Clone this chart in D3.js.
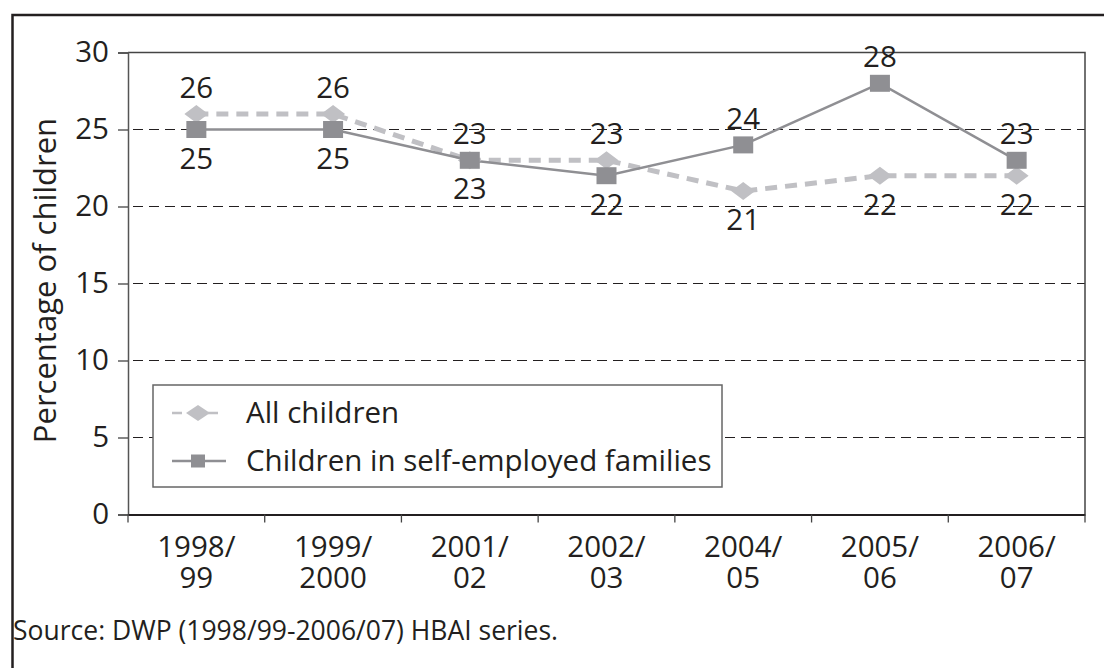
<!DOCTYPE html>
<html>
<head>
<meta charset="utf-8">
<script src="https://cdn.jsdelivr.net/npm/d3@7"></script>
<style>
  html, body { margin: 0; padding: 0; background: #fff; }
  svg { display: block; font-family: "Open Sans", "Noto Sans", sans-serif; }
</style>
</head>
<body>
<svg id="chart" width="1104" height="668"></svg>
<script>
// Survey years and child poverty rates (%)
const categories = ["1998/99", "1999/2000", "2001/02", "2002/03", "2004/05", "2005/06", "2006/07"];
const allChildren = [26, 26, 23, 23, 21, 22, 22];
const selfEmployed = [25, 25, 23, 22, 24, 28, 23];
const yTicks = [0, 5, 10, 15, 20, 25, 30];
const seriesNames = ["All children", "Children in self-employed families"];
const sourceNote = "Source: DWP (1998/99-2006/07) HBAI series.";

const svg = d3.select("#chart");
const ink = "#231f20";
const lightGrey = "#c0c0c4";
const darkGrey = "#8f8f93";
const fs = 29.5;

const margin = { left: 128, right: 1085, top: 52.5, bottom: 514.5 };

const x = d3.scaleBand().domain(categories).range([margin.left, margin.right]);
const y = d3.scaleLinear().domain([0, 30]).range([margin.bottom, margin.top]);

// outer frame (left and top edges)
svg.append("path")
  .attr("d", `M12.5,668 L12.5,15 L1104,15`)
  .attr("fill", "none").attr("stroke", ink).attr("stroke-width", 2.5);

// dashed gridlines
svg.append("g").selectAll("line")
  .data(yTicks.filter(t => t > 0 && t < 30))
  .join("line")
  .attr("x1", margin.left + 5).attr("x2", margin.right)
  .attr("y1", d => y(d)).attr("y2", d => y(d))
  .attr("stroke", ink).attr("stroke-width", 1.2)
  .attr("stroke-dasharray", "10,6");

// plot frame top/right
svg.append("path")
  .attr("d", `M${margin.left},${y(30)} L${margin.right},${y(30)} L${margin.right},${margin.bottom}`)
  .attr("fill", "none").attr("stroke", "#444").attr("stroke-width", 1.5);

// y axis
const yAxis = svg.append("g")
  .attr("transform", `translate(${margin.left},0)`)
  .call(d3.axisLeft(y).tickValues(yTicks).tickSize(10).tickPadding(9));
yAxis.select(".domain").attr("stroke", "#555").attr("stroke-width", 1.5);
yAxis.selectAll(".tick line").attr("stroke", "#444").attr("stroke-width", 1.3);
yAxis.selectAll(".tick text")
  .attr("fill", ink).attr("font-size", fs).attr("font-family", "Open Sans");

// x axis
const xAxis = svg.append("g")
  .attr("transform", `translate(0,${margin.bottom})`)
  .call(d3.axisBottom(x).tickSize(0).tickFormat(""));
xAxis.select(".domain").attr("stroke", ink).attr("stroke-width", 2);
// boundary ticks between categories
const bounds = categories.map(c => x(c)).concat([margin.right]);
svg.append("g").selectAll("line").data(bounds).join("line")
  .attr("x1", d => d).attr("x2", d => d)
  .attr("y1", margin.bottom).attr("y2", margin.bottom + 8)
  .attr("stroke", "#444").attr("stroke-width", 1.3);

// two-line category labels
const xl = svg.append("g").selectAll("text").data(categories).join("text")
  .attr("x", d => x(d) + x.bandwidth() / 2)
  .attr("y", 557)
  .attr("text-anchor", "middle")
  .attr("font-size", fs).attr("fill", ink);
xl.each(function(d) {
  const parts = d.split("/");
  const t = d3.select(this);
  t.append("tspan").attr("x", x(d) + x.bandwidth() / 2).text(parts[0] + "/");
  t.append("tspan").attr("x", x(d) + x.bandwidth() / 2).attr("dy", 31).text(parts[1]);
});

// y-axis title
svg.append("text")
  .attr("transform", `translate(56,${(margin.top + margin.bottom) / 2 - 3}) rotate(-90)`)
  .attr("text-anchor", "middle")
  .attr("font-size", 31).attr("fill", ink)
  .text("Percentage of children");

const cx = i => x(categories[i]) + x.bandwidth() / 2;

// All children: dashed light line with diamonds
const lineAll = d3.line().x((d, i) => cx(i)).y(d => y(d));
svg.append("path").datum(allChildren)
  .attr("d", lineAll)
  .attr("fill", "none").attr("stroke", lightGrey).attr("stroke-width", 5)
  .attr("stroke-dasharray", "12,8");

// Self-employed: solid darker line with squares
svg.append("path").datum(selfEmployed)
  .attr("d", lineAll)
  .attr("fill", "none").attr("stroke", darkGrey).attr("stroke-width", 2.5);

const diamond = (w, h) => `M0,${-h} L${w},0 L0,${h} L${-w},0 Z`;
svg.append("g").selectAll("path").data(allChildren).join("path")
  .attr("transform", (d, i) => `translate(${cx(i)},${y(d)})`)
  .attr("d", diamond(12, 9))
  .attr("fill", lightGrey);

svg.append("g").selectAll("rect").data(selfEmployed).join("rect")
  .attr("x", (d, i) => cx(i) - 10).attr("y", d => y(d) - 8.5)
  .attr("width", 20).attr("height", 17)
  .attr("fill", darkGrey);

// value labels: higher series above, lower below (ties: self-employed above)
const labelG = svg.append("g").attr("font-size", fs).attr("fill", ink).attr("text-anchor", "middle");
categories.forEach((c, i) => {
  const a = allChildren[i], s = selfEmployed[i];
  const allAbove = a > s;
  labelG.append("text").attr("x", cx(i))
    .attr("y", allAbove ? y(a) - 16 : y(a) + 39).text(a);
  labelG.append("text").attr("x", cx(i))
    .attr("y", allAbove ? y(s) + 39 : y(s) - 16).text(s);
});

// legend
const lg = svg.append("g");
lg.append("rect").attr("x", 153).attr("y", 385).attr("width", 569).attr("height", 102)
  .attr("fill", "#fff").attr("stroke", "#666").attr("stroke-width", 1.5);
const rows = [413, 461];
lg.append("line").attr("x1", 172).attr("x2", 226).attr("y1", rows[0]).attr("y2", rows[0])
  .attr("stroke", lightGrey).attr("stroke-width", 2.5).attr("stroke-dasharray", "10,8");
lg.append("path").attr("transform", `translate(198,${rows[0]})`).attr("d", diamond(12, 8)).attr("fill", lightGrey);
lg.append("line").attr("x1", 172).attr("x2", 226).attr("y1", rows[1]).attr("y2", rows[1])
  .attr("stroke", darkGrey).attr("stroke-width", 2.5);
lg.append("rect").attr("x", 191).attr("y", rows[1] - 6.5).attr("width", 14).attr("height", 13).attr("fill", darkGrey);
lg.selectAll("text.lab").data(seriesNames).join("text")
  .attr("x", 246).attr("y", (d, i) => rows[i] + 10)
  .attr("font-size", fs).attr("fill", ink).text(d => d);

// source note
svg.append("text").attr("x", 13).attr("y", 640)
  .attr("font-size", 26.5).attr("fill", ink).text(sourceNote);
</script>
</body>
</html>
